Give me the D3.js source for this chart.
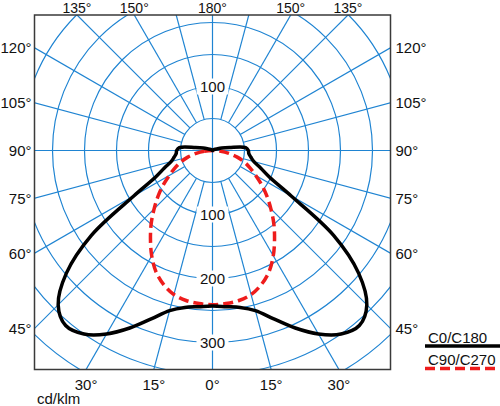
<!DOCTYPE html>
<html>
<head>
<meta charset="utf-8">
<script src="https://cdn.jsdelivr.net/npm/d3@7"></script>
<style>
  body { margin: 0; background: #fff; }
  text { font-family: "Liberation Sans", Arial, sans-serif; }
</style>
</head>
<body>
<svg id="chart" width="500" height="406"></svg>
<script>
// luminous intensity (cd/klm) against gamma angle
var c0Angles = [0, 5, 10, 15, 20, 25, 30, 35, 40, 45, 50, 55, 60, 65, 70, 75, 80, 85, 90, 95, 100, 105, 110, 120, 135, 150, 165, 180];
var c0Values = [243, 245, 249, 259, 280, 306, 331, 350, 357, 341, 298, 231, 142, 98, 80, 67, 61, 57, 56, 52, 27, 15, 7, 3, 1.5, 1, 0.5, 0];
var c90Angles = [0, 5, 10, 15, 20, 25, 30, 35, 40, 45, 50, 55, 60, 65, 70, 75, 80, 85, 90];
var c90Values = [241, 240, 238, 233, 223, 209, 190, 169, 149, 129, 111, 94, 78, 65, 53, 40, 26, 13, 0];

var ringValues = [50, 100, 150, 200, 250, 300, 350, 400];
var ringLabelsDown = [100, 200, 300];
var ringLabelsUp = [100];
var spokeAngles = [0, 15, 30, 45, 60, 75, 90, 105, 120, 135, 150, 165, 180];
var labelAngles = [0, 15, 30, 45, 60, 75, 90, 105, 120, 135, 150, 180];
var legendNames = ["C0/C180", "C90/C270"];
var unitLabel = "cd/klm";

var svg = d3.select("#chart");
var frame = {left: 34.5, right: 390.5, top: 15, bottom: 369.5};
var cx = 212.5, cy = 150.5;
var gridColor = "#1f84d2";
var redColor = "#ee1c1c";

var r = d3.scaleLinear().domain([0, 100]).range([0, 64]);
var rad = Math.PI / 180;

svg.append("rect").attr("width", 500).attr("height", 406).attr("fill", "#fff");

svg.append("clipPath").attr("id", "frameClip")
   .append("rect")
   .attr("x", frame.left).attr("y", frame.top)
   .attr("width", frame.right - frame.left)
   .attr("height", frame.bottom - frame.top);

var plot = svg.append("g").attr("clip-path", "url(#frameClip)");
var g = plot.append("g").attr("transform", "translate(" + cx + "," + cy + ")");

// rings
g.selectAll("circle.ring")
 .data(ringValues)
 .enter().append("circle")
   .attr("class", "ring")
   .attr("r", function(d) { return r(d); })
   .attr("fill", "none")
   .attr("stroke", gridColor)
   .attr("stroke-width", 1.2);

// spokes, both sides; vertical and horizontal run through the centre
var spokes = [];
spokeAngles.forEach(function(a) {
  spokes.push({g: a, s: 1});
  if (a != 0 && a != 180) spokes.push({g: a, s: -1});
});
g.selectAll("line.spoke")
 .data(spokes)
 .enter().append("line")
   .attr("class", "spoke")
   .attr("x1", function(d) { var r0 = (d.g % 90 == 0) ? 0 : r(50); return d.s * r0 * Math.sin(d.g * rad); })
   .attr("y1", function(d) { var r0 = (d.g % 90 == 0) ? 0 : r(50); return r0 * Math.cos(d.g * rad); })
   .attr("x2", function(d) { return d.s * 400 * Math.sin(d.g * rad); })
   .attr("y2", function(d) { return 400 * Math.cos(d.g * rad); })
   .attr("stroke", gridColor)
   .attr("stroke-width", 1.2);

// ring value labels with a white box behind
var ringLabels = ringLabelsDown.map(function(v) { return {v: v, dir: 1}; })
  .concat(ringLabelsUp.map(function(v) { return {v: v, dir: -1}; }));
var rl = g.selectAll("g.rlabel").data(ringLabels).enter().append("g")
  .attr("transform", function(d) { return "translate(0," + d.dir * r(d.v) + ")"; });
rl.append("rect").attr("x", -16).attr("y", -8).attr("width", 32).attr("height", 16).attr("fill", "#fff");
rl.append("text")
  .attr("text-anchor", "middle")
  .attr("y", 5.5)
  .style("font-size", "15px")
  .attr("fill", "#111")
  .text(function(d) { return d.v; });

// curves: left side at angle pi+gamma, right side at pi-gamma
function curvePoints(angles, values) {
  var pts = [];
  for (var i = angles.length - 1; i >= 0; i--) pts.push({a: Math.PI + angles[i] * rad, v: values[i]});
  for (var j = 1; j < angles.length - 1; j++) pts.push({a: Math.PI - angles[j] * rad, v: values[j]});
  return pts;
}
var radial = d3.lineRadial()
  .angle(function(d) { return d.a; })
  .radius(function(d) { return r(d.v); })
  .curve(d3.curveCatmullRomClosed.alpha(0.5));

g.append("path")
  .attr("d", radial(curvePoints(c90Angles, c90Values)))
  .attr("fill", "none")
  .attr("stroke", redColor)
  .attr("stroke-width", 3.5)
  .attr("stroke-dasharray", "10,5");

g.append("path")
  .attr("d", radial(curvePoints(c0Angles, c0Values)))
  .attr("fill", "none")
  .attr("stroke", "#000")
  .attr("stroke-width", 3.5)
  .attr("stroke-linejoin", "round");

// frame
svg.append("rect")
   .attr("x", frame.left).attr("y", frame.top)
   .attr("width", frame.right - frame.left)
   .attr("height", frame.bottom - frame.top)
   .attr("fill", "none")
   .attr("stroke", "#3a3a3a")
   .attr("stroke-width", 1.5);

// angle labels where the spokes meet the frame
labelAngles.forEach(function(a) {
  [1, -1].forEach(function(s) {
    if ((a == 0 || a == 180) && s == -1) return;
    var sx = s * Math.sin(a * rad), sy = Math.cos(a * rad);
    var tx = Math.abs(sx) > 1e-9 ? ((sx > 0 ? frame.right - cx : cx - frame.left) / Math.abs(sx)) : Infinity;
    var ty = Math.abs(sy) > 1e-9 ? ((sy > 0 ? frame.bottom - cy : cy - frame.top) / Math.abs(sy)) : Infinity;
    var t = Math.min(tx, ty);
    var px = cx + sx * t, py = cy + sy * t;
    var lab = svg.append("text").style("font-size", "15px").attr("fill", "#111").text(a + "°");
    if (tx <= ty) {
      lab.attr("x", s > 0 ? frame.right + 5 : frame.left - 3)
         .attr("y", py + 5.5)
         .attr("text-anchor", s > 0 ? "start" : "end");
    } else if (sy > 0) {
      lab.attr("x", px).attr("y", 390).attr("text-anchor", "middle");
    } else {
      lab.attr("x", px).attr("y", 13).attr("text-anchor", "middle").style("font-size", "14px");
    }
  });
});

svg.append("text")
   .attr("x", 37).attr("y", 404)
   .style("font-size", "15px")
   .attr("fill", "#111")
   .text(unitLabel);

// legend
var legend = svg.append("g");
legend.append("text").attr("x", 428).attr("y", 342.5).style("font-size", "15px").attr("fill", "#111").text(legendNames[0]);
legend.append("line").attr("x1", 425).attr("x2", 500).attr("y1", 346).attr("y2", 346)
      .attr("stroke", "#000").attr("stroke-width", 3.5);
legend.append("text").attr("x", 428).attr("y", 364.5).style("font-size", "15px").attr("fill", "#111").text(legendNames[1]);
legend.append("line").attr("x1", 425).attr("x2", 500).attr("y1", 368.5).attr("y2", 368.5)
      .attr("stroke", redColor).attr("stroke-width", 3.5).attr("stroke-dasharray", "10,5");
</script>
</body>
</html>
